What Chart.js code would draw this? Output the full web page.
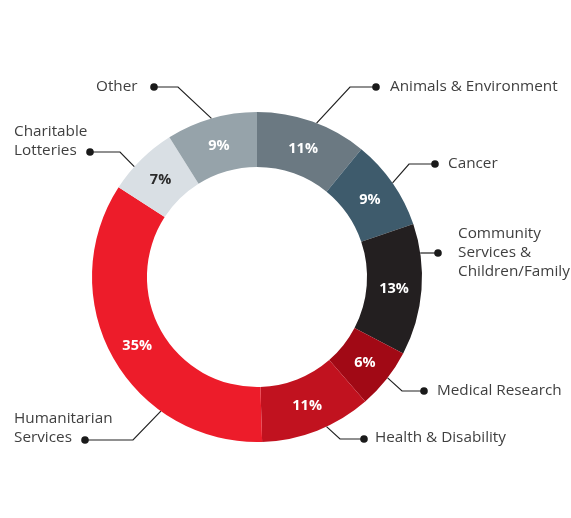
<!DOCTYPE html>
<html>
<head>
<meta charset="utf-8">
<script src="https://cdn.jsdelivr.net/npm/chart.js@4.4.1/dist/chart.umd.min.js"></script>
<style>
  html, body { margin: 0; padding: 0; background: #fff; }
  #wrap { width: 571px; height: 518px; }
</style>
</head>
<body>
<div id="wrap"><canvas id="donut" width="571" height="518"></canvas></div>
<script>
// data, clockwise from 12 o'clock
var categories = ['Animals & Environment', 'Cancer', 'Community Services & Children/Family',
    'Medical Research', 'Health & Disability', 'Humanitarian Services', 'Charitable Lotteries', 'Other'];
var shares = [11, 9, 13, 6, 11, 35, 7, 9];

var colours = ['#6b7982', '#3e5b6c', '#231f20', '#a10915', '#c1121f', '#ed1c2a', '#d9dfe4', '#96a3aa'];
var pctColours = ['#fff', '#fff', '#fff', '#fff', '#fff', '#fff', '#2b2b2b', '#fff'];

// callout layout: where along the arc the leader starts, elbow, dot, text anchor
var callouts = [
    { lines: ['Animals & Environment'], at: 0.54, elbow: [350, 87], dot: [376, 87], tx: 390, ty: 87 },
    { lines: ['Cancer'], at: 0.5, elbow: [409, 164], dot: [435, 164], tx: 448, ty: 164 },
    { lines: ['Community', 'Services &', 'Children/Family'], at: 0.5, elbow: null, dot: [438, 253], tx: 458, ty: 234 },
    { lines: ['Medical Research'], at: 0.47, elbow: [402, 391], dot: [424, 391], tx: 437, ty: 391 },
    { lines: ['Health & Disability'], at: 0.41, elbow: [340, 439], dot: [364, 439], tx: 375, ty: 438 },
    { lines: ['Humanitarian', 'Services'], at: 0.3, elbow: [133, 440], dot: [85, 440], tx: 14, ty: 419 },
    { lines: ['Charitable', 'Lotteries'], at: 0.36, elbow: [120, 152], dot: [90, 152], tx: 14, ty: 132 },
    { lines: ['Other'], at: 0.5, elbow: [178, 87], dot: [154, 87], tx: 96, ty: 87 }
];

var calloutPlugin = {
    id: 'callouts',
    afterDatasetsDraw: function (chart) {
        var ctx = chart.ctx;
        var arcs = chart.getDatasetMeta(0).data;
        ctx.save();
        arcs.forEach(function (arc, i) {
            var p = arc.getProps(['x', 'y', 'startAngle', 'endAngle', 'innerRadius', 'outerRadius'], true);
            var mid = (p.startAngle + p.endAngle) / 2;
            var rMid = (p.innerRadius + p.outerRadius) / 2;

            // percent inside the ring
            ctx.fillStyle = pctColours[i];
            ctx.font = 'bold 14.5px "Open Sans", sans-serif';
            ctx.textAlign = 'center';
            ctx.textBaseline = 'middle';
            ctx.fillText(shares[i] + '%', p.x + Math.cos(mid) * rMid, p.y + Math.sin(mid) * rMid + 1);

            // leader line from outer edge
            var c = callouts[i];
            var a = p.startAngle + (p.endAngle - p.startAngle) * c.at;
            var ex = p.x + Math.cos(a) * p.outerRadius;
            var ey = p.y + Math.sin(a) * p.outerRadius;
            if (c.elbow === null) {
                ey = c.dot[1];
                ex = p.x + Math.sqrt(p.outerRadius * p.outerRadius - (ey - p.y) * (ey - p.y));
            }
            ctx.strokeStyle = '#222';
            ctx.lineWidth = 1.2;
            ctx.beginPath();
            ctx.moveTo(ex, ey);
            if (c.elbow) ctx.lineTo(c.elbow[0], c.elbow[1]);
            ctx.lineTo(c.dot[0], c.dot[1]);
            ctx.stroke();
            ctx.fillStyle = '#1a1a1a';
            ctx.beginPath();
            ctx.arc(c.dot[0], c.dot[1], 3.8, 0, Math.PI * 2);
            ctx.fill();

            // label text
            ctx.fillStyle = '#3f3f3f';
            ctx.font = '15.3px "Open Sans", sans-serif';
            ctx.textAlign = 'left';
            c.lines.forEach(function (t, k) {
                ctx.fillText(t, c.tx, c.ty + k * 18.7);
            });
        });
        ctx.restore();
    }
};

var chart = new Chart(document.getElementById('donut').getContext('2d'), {
    type: 'doughnut',
    data: {
        labels: categories,
        datasets: [{
            data: shares,
            backgroundColor: colours,
            borderWidth: 0
        }]
    },
    options: {
        responsive: false,
        animation: false,
        cutout: '66.7%',
        layout: { padding: { left: 92, right: 149, top: 112, bottom: 76 } },
        plugins: {
            legend: { display: false },
            tooltip: { enabled: false }
        }
    },
    plugins: [calloutPlugin]
});
</script>
</body>
</html>
